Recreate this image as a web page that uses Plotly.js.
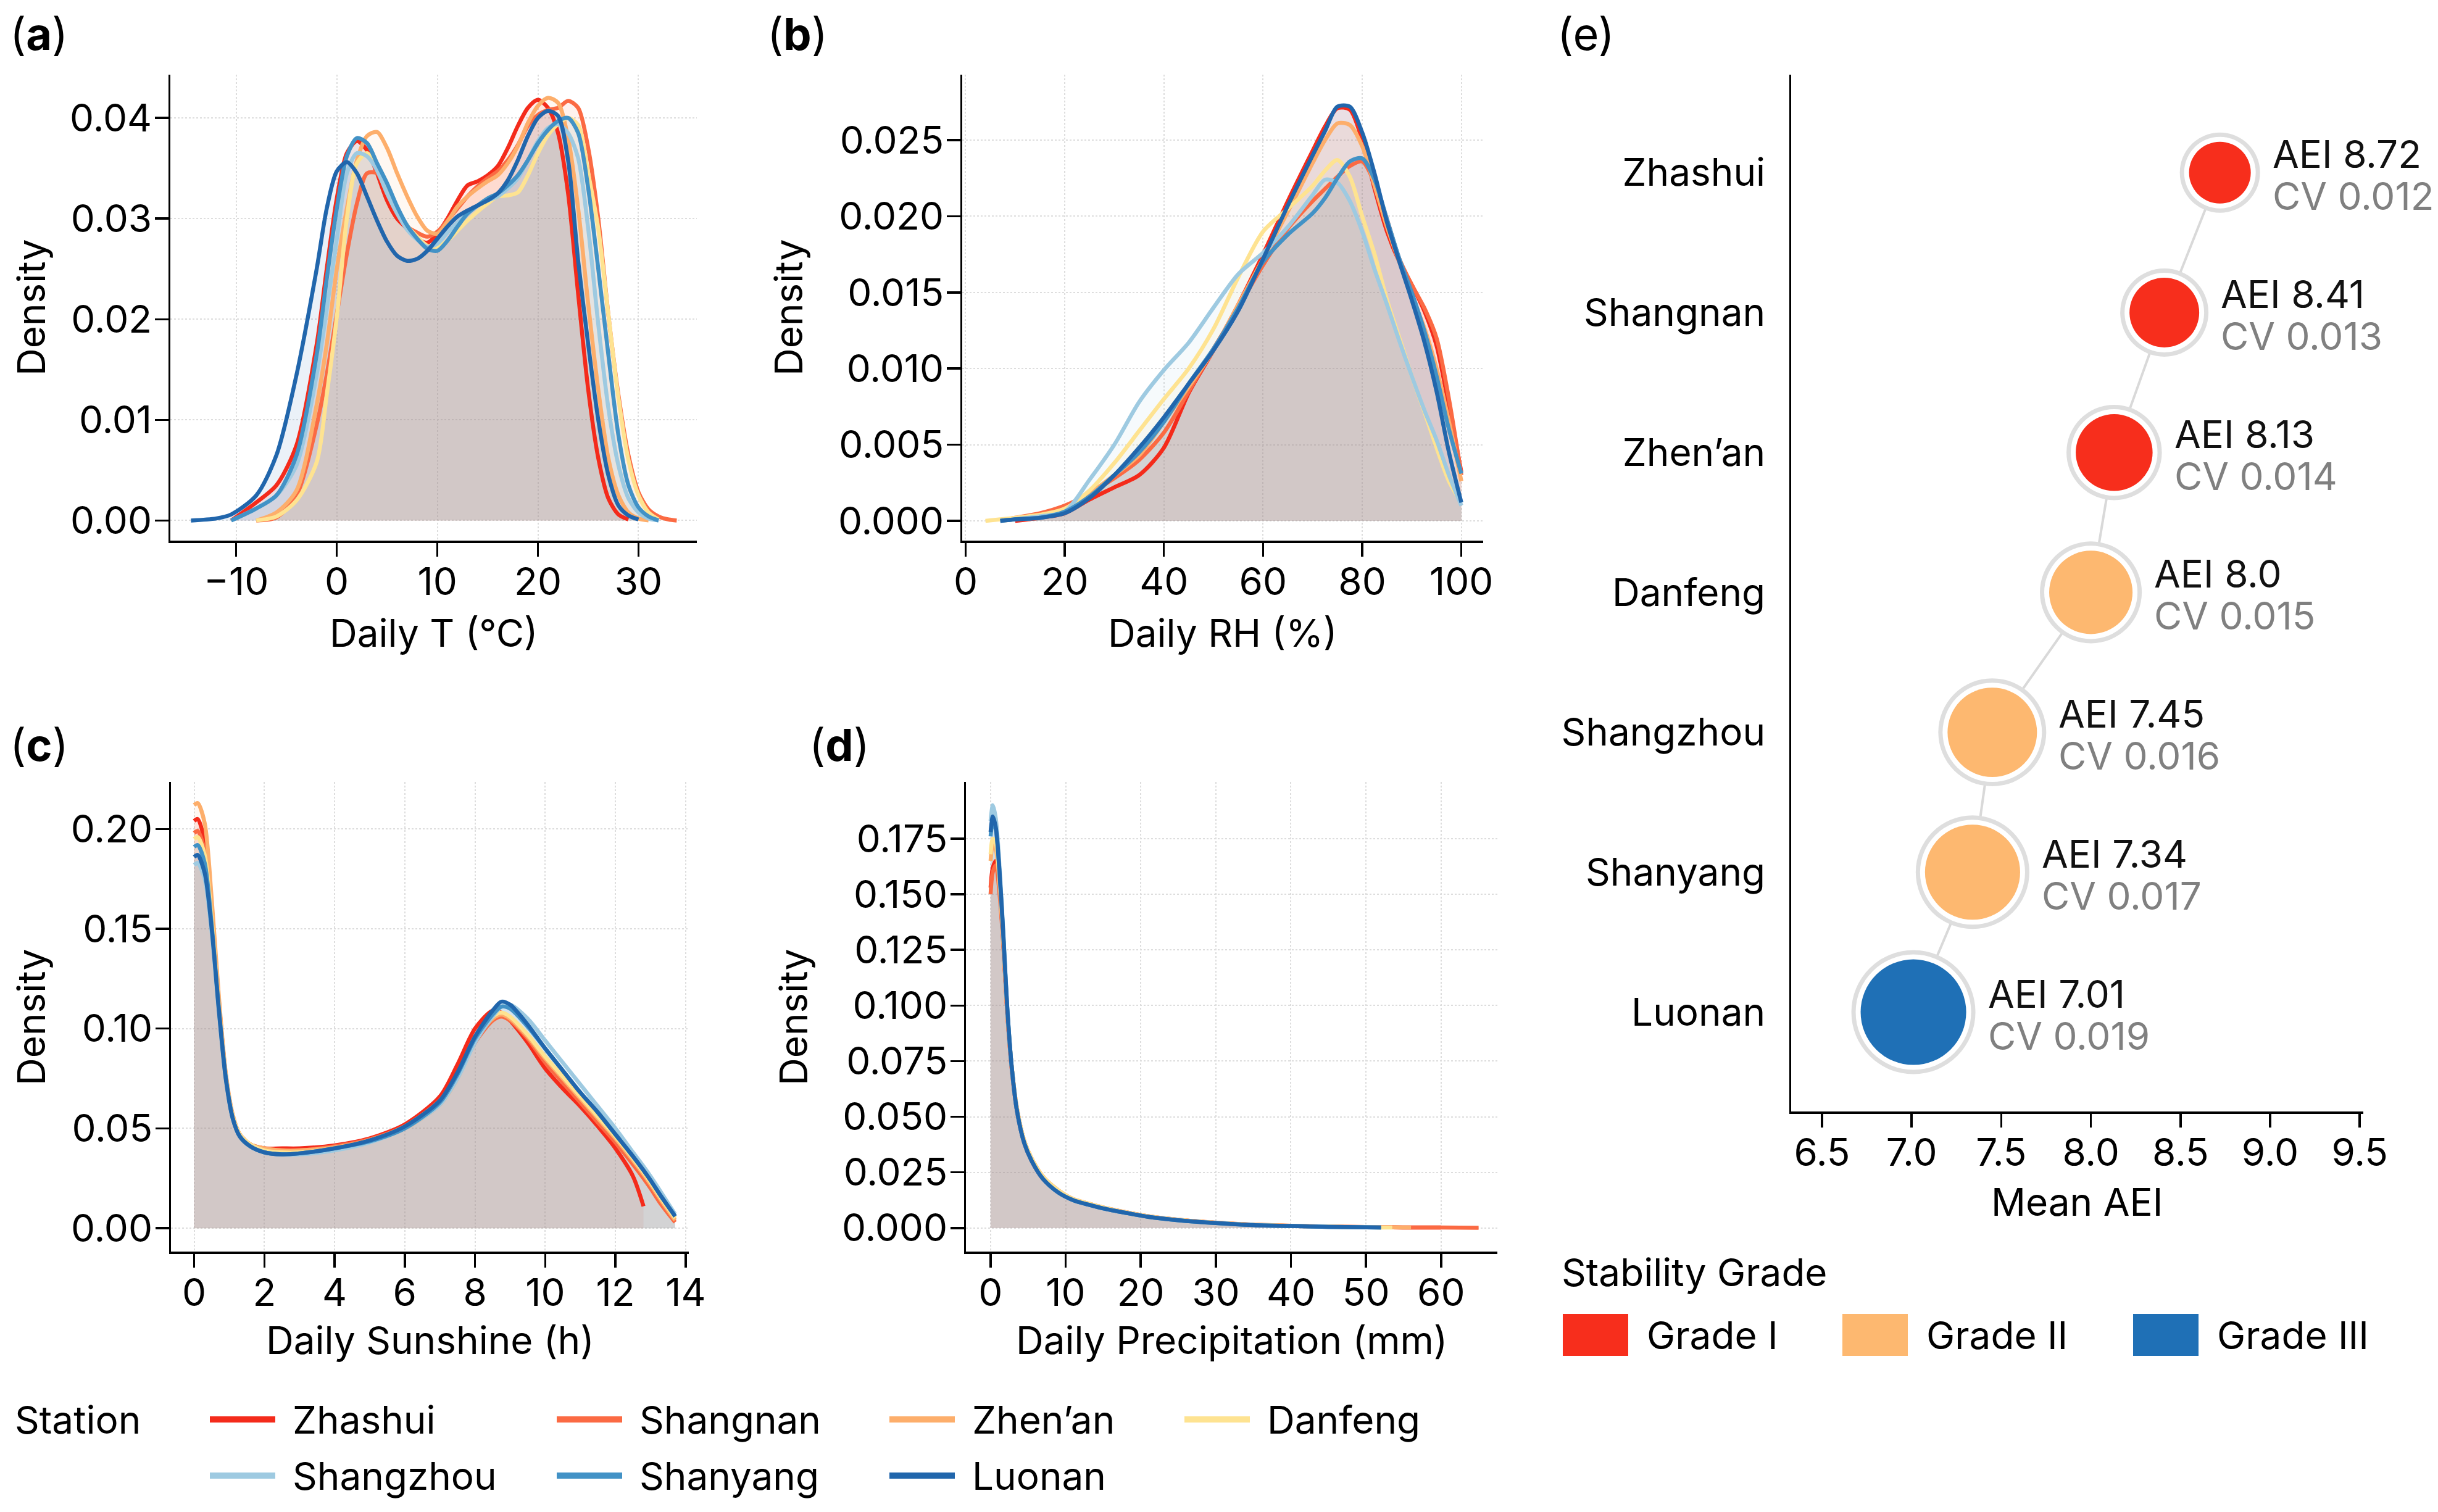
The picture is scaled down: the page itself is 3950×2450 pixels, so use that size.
<!DOCTYPE html>
<html>
<head>
<meta charset="utf-8">
<script src="https://cdn.plot.ly/plotly-3.0.1.min.js"></script>
<style>
  html, body { margin: 0; padding: 0; background: #ffffff; }
  #chart { width: 3950px; height: 2450px; }
</style>
</head>
<body>
<div id="chart"></div>
<script>
// ---------- Stations (drawing order: first drawn at the bottom) ----------
const stations = ['Zhashui', 'Shangnan', 'Zhen’an', 'Danfeng', 'Shangzhou', 'Shanyang', 'Luonan'];

// ---------- (a) Daily mean temperature density ----------
const tempX = [-14.5, -12, -10.5, -8, -6, -4, -2, -1, 0, 1, 2, 3, 4, 5, 6, 7, 8, 9, 10, 11, 12, 13, 14, 15, 16,
  17, 18, 19, 20, 21, 22, 23, 24, 25, 26, 27, 28, 29, 30, 31, 32, 33, 33.8];
const tempDensity = [
  /* Zhashui */ [null, null, 0, 0.0018, 0.0035, 0.0075, 0.0175, 0.025, 0.032, 0.0365, 0.0377, 0.0368, 0.0345, 0.0318, 0.0300, 0.0290, 0.0280, 0.0276, 0.0285, 0.0300, 0.0318, 0.0333, 0.0337, 0.0343, 0.0352, 0.0370, 0.0392, 0.0410, 0.0418, 0.0410, 0.0385, 0.0325, 0.0225, 0.0130, 0.0062, 0.0022, 0.0006, 0.0001, null, null, null, null, null],
  /* Shangnan */ [null, null, null, 0, 0.0003, 0.0025, 0.0095, 0.0145, 0.0205, 0.0265, 0.0315, 0.0345, 0.0345, 0.0325, 0.0305, 0.0292, 0.0286, 0.0282, 0.0287, 0.0298, 0.0310, 0.0322, 0.0332, 0.0340, 0.0347, 0.0358, 0.0373, 0.0392, 0.0403, 0.0408, 0.0410, 0.0417, 0.0410, 0.0370, 0.0300, 0.0205, 0.0125, 0.0065, 0.0028, 0.0011, 0.0004, 0.0001, 0],
  /* Zhen'an */ [null, null, null, 0, 0.0008, 0.003, 0.0115, 0.0175, 0.025, 0.031, 0.0358, 0.0382, 0.0386, 0.0370, 0.0345, 0.0322, 0.0302, 0.0288, 0.0285, 0.0297, 0.0312, 0.0322, 0.0330, 0.0337, 0.0343, 0.0355, 0.0372, 0.0395, 0.0412, 0.0420, 0.0415, 0.0380, 0.0310, 0.0215, 0.0130, 0.0062, 0.0025, 0.0008, 0.0002, 0, null, null, null],
  /* Danfeng */ [null, null, null, 0, 0.0004, 0.002, 0.0058, 0.0125, 0.0202, 0.0300, 0.0355, 0.0365, 0.0352, 0.0330, 0.0310, 0.0293, 0.0282, 0.0273, 0.0272, 0.0278, 0.0288, 0.0298, 0.0307, 0.0315, 0.0322, 0.0323, 0.0326, 0.0343, 0.0365, 0.0383, 0.0394, 0.0400, 0.0393, 0.0345, 0.0290, 0.0205, 0.0122, 0.0060, 0.0025, 0.0008, 0.0001, null, null],
  /* Shangzhou */ [null, null, 0, 0.0012, 0.0025, 0.0055, 0.0145, 0.021, 0.028, 0.0345, 0.0365, 0.0362, 0.0348, 0.0325, 0.0305, 0.0289, 0.0279, 0.0272, 0.0275, 0.0286, 0.0296, 0.0305, 0.0313, 0.0318, 0.0322, 0.0330, 0.0340, 0.0358, 0.0377, 0.0390, 0.0394, 0.0385, 0.0360, 0.0290, 0.0195, 0.0112, 0.0055, 0.0022, 0.0008, 0.0002, 0, null, null],
  /* Shanyang */ [null, null, 0, 0.0012, 0.0025, 0.0065, 0.0165, 0.024, 0.031, 0.0362, 0.0380, 0.0375, 0.0355, 0.0335, 0.0312, 0.0293, 0.0280, 0.0270, 0.0268, 0.0278, 0.0292, 0.0305, 0.0313, 0.0320, 0.0325, 0.0333, 0.0343, 0.0358, 0.0375, 0.0388, 0.0397, 0.0400, 0.0385, 0.0330, 0.0250, 0.0165, 0.0085, 0.0035, 0.0013, 0.0004, 0, null, null],
  /* Luonan */ [0, 0.0002, 0.0006, 0.0025, 0.0065, 0.0145, 0.025, 0.031, 0.0347, 0.0356, 0.0345, 0.0322, 0.0298, 0.0277, 0.0263, 0.0258, 0.0260, 0.0268, 0.0280, 0.0292, 0.0302, 0.0308, 0.0313, 0.0318, 0.0325, 0.0338, 0.0358, 0.0382, 0.0400, 0.0407, 0.0402, 0.0358, 0.0258, 0.0175, 0.0100, 0.0045, 0.0015, 0.0005, 0.0001, null, null, null, null]
];

// ---------- (b) Daily relative humidity density ----------
const rhX = [4, 7, 10, 15, 20, 25, 30, 35, 40, 45, 50, 55, 60, 65, 70, 72.5, 75, 77.5, 80, 82.5, 85, 87.5, 90, 92.5, 95, 97.5, 100];
const rhDensity = [
  /* Zhashui */ [null, null, 0, 0.0002, 0.0005, 0.0014, 0.0022, 0.0030, 0.0048, 0.0084, 0.0112, 0.0142, 0.0175, 0.0210, 0.0243, 0.0259, 0.0271, 0.0270, 0.0250, 0.0218, 0.0190, 0.0170, 0.0155, 0.0138, 0.0115, 0.0075, 0.0032],
  /* Shangnan */ [null, 0, 0.0002, 0.0005, 0.0010, 0.0018, 0.0028, 0.0040, 0.0058, 0.0085, 0.0113, 0.0140, 0.0168, 0.0192, 0.0210, 0.0218, 0.0226, 0.0233, 0.0236, 0.0222, 0.0198, 0.0172, 0.0155, 0.0140, 0.0120, 0.0080, 0.0030],
  /* Zhen'an */ [null, 0, 0.0001, 0.0003, 0.0008, 0.0018, 0.0030, 0.0043, 0.0065, 0.0088, 0.0112, 0.0142, 0.0172, 0.0203, 0.0235, 0.0250, 0.0261, 0.0260, 0.0246, 0.0220, 0.0193, 0.0170, 0.0148, 0.0127, 0.0100, 0.0065, 0.0026],
  /* Danfeng */ [0, 0.0001, 0.0002, 0.0004, 0.0008, 0.0020, 0.0038, 0.0059, 0.0080, 0.0100, 0.0126, 0.0160, 0.0190, 0.0205, 0.0220, 0.0230, 0.0237, 0.0226, 0.0200, 0.0175, 0.0145, 0.0120, 0.0095, 0.0072, 0.0048, 0.0026, 0.0012],
  /* Shangzhou */ [null, 0, 0.0001, 0.0003, 0.0006, 0.0027, 0.0050, 0.0078, 0.0099, 0.0117, 0.0140, 0.0162, 0.0176, 0.0193, 0.0214, 0.0224, 0.0222, 0.0210, 0.0190, 0.0165, 0.0142, 0.0118, 0.0095, 0.0073, 0.0053, 0.0030, 0.0010],
  /* Shanyang */ [null, 0, 0.0001, 0.0002, 0.0006, 0.0016, 0.0030, 0.0045, 0.0065, 0.0090, 0.0113, 0.0140, 0.0170, 0.0188, 0.0202, 0.0212, 0.0225, 0.0236, 0.0238, 0.0224, 0.0198, 0.0172, 0.0150, 0.0125, 0.0095, 0.0060, 0.0031],
  /* Luonan */ [null, 0, 0.0001, 0.0002, 0.0005, 0.0015, 0.0030, 0.0048, 0.0068, 0.0090, 0.0112, 0.0138, 0.0172, 0.0207, 0.0240, 0.0256, 0.0272, 0.0272, 0.0255, 0.0228, 0.0196, 0.0170, 0.0145, 0.0118, 0.0085, 0.0045, 0.0012]
];

// ---------- (c) Daily sunshine duration density ----------
const sunX = [0, 0.1, 0.3, 0.5, 0.7, 0.9, 1.1, 1.3, 1.6, 2, 2.5, 3, 4, 5, 6, 7, 7.5, 8, 8.5, 8.75, 9, 9.5, 10, 10.5, 11, 11.5, 12, 12.5, 12.8, 13, 13.3, 13.7];
const sunDensity = [
  /* Zhashui */ [0.204, 0.205, 0.194, 0.160, 0.115, 0.077, 0.056, 0.047, 0.042, 0.040, 0.040, 0.040, 0.0415, 0.045, 0.052, 0.066, 0.082, 0.100, 0.109, 0.108, 0.104, 0.093, 0.080, 0.070, 0.061, 0.051, 0.040, 0.026, 0.011, null, null, null],
  /* Shangnan */ [0.198, 0.199, 0.189, 0.156, 0.113, 0.076, 0.056, 0.047, 0.042, 0.040, 0.039, 0.039, 0.041, 0.0445, 0.051, 0.063, 0.076, 0.093, 0.104, 0.106, 0.104, 0.095, 0.083, 0.073, 0.063, 0.053, 0.043, 0.032, 0.025, 0.020, 0.012, 0.003],
  /* Zhen'an */ [0.212, 0.213, 0.203, 0.165, 0.117, 0.078, 0.057, 0.047, 0.042, 0.040, 0.039, 0.039, 0.0405, 0.044, 0.050, 0.062, 0.075, 0.094, 0.105, 0.107, 0.105, 0.096, 0.085, 0.075, 0.065, 0.055, 0.045, 0.034, 0.027, 0.022, 0.014, 0.004],
  /* Danfeng */ [0.195, 0.196, 0.187, 0.155, 0.112, 0.076, 0.056, 0.047, 0.042, 0.039, 0.038, 0.038, 0.040, 0.044, 0.051, 0.064, 0.077, 0.095, 0.106, 0.108, 0.106, 0.097, 0.086, 0.076, 0.066, 0.056, 0.046, 0.035, 0.028, 0.023, 0.015, 0.005],
  /* Shangzhou */ [0.182, 0.183, 0.175, 0.148, 0.109, 0.075, 0.055, 0.046, 0.041, 0.038, 0.037, 0.037, 0.039, 0.043, 0.050, 0.062, 0.075, 0.093, 0.106, 0.111, 0.112, 0.105, 0.094, 0.083, 0.072, 0.061, 0.050, 0.038, 0.031, 0.026, 0.018, 0.007],
  /* Shanyang */ [0.191, 0.192, 0.183, 0.152, 0.111, 0.076, 0.055, 0.046, 0.041, 0.038, 0.037, 0.0375, 0.040, 0.0435, 0.050, 0.063, 0.077, 0.095, 0.107, 0.111, 0.110, 0.101, 0.090, 0.079, 0.068, 0.058, 0.047, 0.036, 0.029, 0.024, 0.016, 0.006],
  /* Luonan */ [0.186, 0.187, 0.178, 0.150, 0.110, 0.075, 0.055, 0.046, 0.041, 0.038, 0.037, 0.0375, 0.040, 0.044, 0.051, 0.064, 0.078, 0.096, 0.109, 0.1135, 0.112, 0.102, 0.090, 0.079, 0.068, 0.058, 0.047, 0.036, 0.029, 0.024, 0.016, 0.006]
];

// ---------- (d) Daily precipitation density ----------
const precX = [0, 0.3, 0.7, 1.2, 1.7, 2.2, 2.8, 3.5, 4.5, 5.5, 7, 9, 11, 13, 15, 18, 21, 25, 30, 35, 40, 45, 50, 52, 53.5, 56, 60, 65];
const precDensity = [
  /* Zhashui */ [0.153, 0.162, 0.165, 0.152, 0.128, 0.098, 0.072, 0.053, 0.038, 0.030, 0.022, 0.0165, 0.0128, 0.0108, 0.0090, 0.0069, 0.0051, 0.0036, 0.0023, 0.0014, 0.0009, 0.0006, 0.0004, 0.0003, 0.0003, 0.0002, 0.0002, null],
  /* Shangnan */ [0.150, 0.160, 0.163, 0.150, 0.127, 0.098, 0.073, 0.054, 0.039, 0.031, 0.023, 0.017, 0.013, 0.011, 0.0092, 0.0071, 0.0053, 0.0037, 0.0024, 0.0015, 0.0010, 0.0006, 0.0004, 0.0003, 0.0003, 0.0002, 0.0002, 0.0001],
  /* Zhen'an */ [0.165, 0.172, 0.170, 0.154, 0.129, 0.099, 0.073, 0.054, 0.039, 0.031, 0.023, 0.017, 0.013, 0.011, 0.0092, 0.0071, 0.0053, 0.0037, 0.0024, 0.0015, 0.0010, 0.0006, 0.0004, 0.0003, 0.0003, 0.0002, null, null],
  /* Danfeng */ [0.168, 0.175, 0.173, 0.156, 0.130, 0.099, 0.073, 0.054, 0.039, 0.031, 0.023, 0.017, 0.013, 0.011, 0.0092, 0.0070, 0.0052, 0.0036, 0.0023, 0.0014, 0.0009, 0.0006, 0.0003, 0.0002, 0.0002, null, null, null],
  /* Shangzhou */ [0.183, 0.190, 0.184, 0.162, 0.133, 0.101, 0.073, 0.053, 0.038, 0.030, 0.022, 0.016, 0.0125, 0.0105, 0.0088, 0.0068, 0.0050, 0.0035, 0.0022, 0.0013, 0.0009, 0.0005, 0.0003, 0.0002, null, null, null, null],
  /* Shanyang */ [0.176, 0.183, 0.179, 0.159, 0.131, 0.100, 0.073, 0.053, 0.038, 0.030, 0.022, 0.016, 0.0125, 0.0105, 0.0088, 0.0068, 0.0050, 0.0035, 0.0022, 0.0013, 0.0009, 0.0005, 0.0003, 0.0002, null, null, null, null],
  /* Luonan */ [0.178, 0.185, 0.180, 0.160, 0.132, 0.100, 0.073, 0.053, 0.038, 0.030, 0.022, 0.016, 0.0125, 0.0105, 0.0088, 0.0068, 0.0050, 0.0035, 0.0022, 0.0013, 0.0009, 0.0005, 0.0003, 0.0002, null, null, null, null]
];

// ---------- (e) Mean AEI, CV and stability grade per station ----------
const aeiStations = ['Zhashui', 'Shangnan', 'Zhen’an', 'Danfeng', 'Shangzhou', 'Shanyang', 'Luonan'];
const meanAEI = [8.72, 8.41, 8.13, 8.0, 7.45, 7.34, 7.01];
const aeiCV = [0.012, 0.013, 0.014, 0.015, 0.016, 0.017, 0.019];
const aeiGrade = ['Grade I', 'Grade I', 'Grade I', 'Grade II', 'Grade II', 'Grade II', 'Grade III'];
const gradeNames = ['Grade I', 'Grade II', 'Grade III'];

// ---------- Styling ----------
const stationColors = ['#f42b1b', '#fb6a43', '#fdae6b', '#fee391', '#9ecae1', '#4292c6', '#2166ac'];
const gradeColors = { 'Grade I': '#f72e1c', 'Grade II': '#fdb870', 'Grade III': '#1f70b6' };
const W = 3950, H = 2450;
const FONT = 'Inter, "Noto Sans", "DejaVu Sans", sans-serif';
const FS = 62;                  // general text size
const fx = v => v / W;          // page pixel -> paper fraction (x)
const fy = v => 1 - v / H;      // page pixel -> paper fraction (y)

function rgba(hex, a) {
  const n = parseInt(hex.slice(1), 16);
  return `rgba(${(n >> 16) & 255},${(n >> 8) & 255},${n & 255},${a})`;
}

const traces = [];

// density panels: all translucent fills first, then the outlines on top
const densityPanels = [
  { x: tempX, ys: tempDensity, xa: 'x', ya: 'y' },
  { x: rhX, ys: rhDensity, xa: 'x2', ya: 'y2' },
  { x: sunX, ys: sunDensity, xa: 'x3', ya: 'y3' },
  { x: precX, ys: precDensity, xa: 'x4', ya: 'y4' }
];
densityPanels.forEach(p => {
  stations.forEach((s, i) => {
    traces.push({
      type: 'scatter', mode: 'lines', name: s + ' area',
      x: p.x, y: p.ys[i], xaxis: p.xa, yaxis: p.ya,
      line: { color: 'rgba(0,0,0,0)', width: 0, shape: 'spline', smoothing: 0.8 },
      fill: 'tozeroy', fillcolor: rgba(stationColors[i], 0.09),
      connectgaps: false, showlegend: false, hoverinfo: 'skip'
    });
  });
  stations.forEach((s, i) => {
    traces.push({
      type: 'scatter', mode: 'lines', name: s,
      x: p.x, y: p.ys[i], xaxis: p.xa, yaxis: p.ya,
      line: { color: stationColors[i], width: 6.5, shape: 'spline', smoothing: 0.8 },
      connectgaps: false, showlegend: false, hoverinfo: 'skip'
    });
  });
});

// AEI dot chart: marker area grows linearly with CV
const fillD = aeiCV.map(c => Math.sqrt(10000 + (c - 0.012) * 2.75e6));
const outerD = fillD.map(d => d + 30);
traces.push({
  type: 'scatter', mode: 'lines', x: meanAEI, y: aeiStations, xaxis: 'x5', yaxis: 'y5',
  line: { color: '#d9d9d9', width: 4 }, showlegend: false, hoverinfo: 'skip'
});
traces.push({
  type: 'scatter', mode: 'markers', x: meanAEI, y: aeiStations, xaxis: 'x5', yaxis: 'y5',
  marker: { size: outerD, color: '#dedede', line: { width: 0 }, opacity: 1 },
  showlegend: false, hoverinfo: 'skip', cliponaxis: false
});
traces.push({
  type: 'scatter', mode: 'markers', x: meanAEI, y: aeiStations, xaxis: 'x5', yaxis: 'y5',
  marker: { size: fillD.map(d => d + 16), color: '#ffffff', line: { width: 0 }, opacity: 1 },
  showlegend: false, hoverinfo: 'skip', cliponaxis: false
});
traces.push({
  type: 'scatter', mode: 'markers', x: meanAEI, y: aeiStations, xaxis: 'x5', yaxis: 'y5',
  marker: { size: fillD, color: aeiGrade.map(g => gradeColors[g]), line: { width: 0 }, opacity: 1 },
  showlegend: false, hoverinfo: 'skip', cliponaxis: false
});

// ---------- Axes ----------
const baseAxis = {
  showline: true, linecolor: '#000000', linewidth: 3.5,
  ticks: 'outside', ticklen: 22, tickwidth: 3.5, tickcolor: '#000000',
  showgrid: true, gridcolor: '#dddddd', gridwidth: 2, griddash: 'dot',
  zeroline: false, fixedrange: true,
  tickfont: { family: FONT, size: FS, color: '#000000' }
};
function xAxis(extra) { return Object.assign({}, baseAxis, { ticklabelstandoff: -12 }, extra); }
function yAxis(extra) { return Object.assign({}, baseAxis, { ticklabelstandoff: -8 }, extra); }

const rowTop = [fy(876), fy(121)];
const rowBottom = [fy(2028), fy(1267)];

const layout = {
  width: W, height: H,
  margin: { l: 0, r: 0, t: 0, b: 0, pad: 0 },
  paper_bgcolor: '#ffffff', plot_bgcolor: '#ffffff',
  font: { family: FONT, size: FS, color: '#000000' },
  showlegend: false,
  xaxis: xAxis({ domain: [fx(276), fx(1129)], anchor: 'y', range: [-16.55, 35.8],
    tickmode: 'array', tickvals: [-10, 0, 10, 20, 30] }),
  yaxis: yAxis({ domain: rowTop, anchor: 'x', range: [-0.0020, 0.0443],
    tickmode: 'array', tickvals: [0, 0.01, 0.02, 0.03, 0.04], tickformat: '.2f' }),
  xaxis2: xAxis({ domain: [fx(1559), fx(2403)], anchor: 'y2', range: [-0.68, 104.4],
    tickmode: 'array', tickvals: [0, 20, 40, 60, 80, 100] }),
  yaxis2: yAxis({ domain: rowTop, anchor: 'x2', range: [-0.0013, 0.0293],
    tickmode: 'array', tickvals: [0, 0.005, 0.01, 0.015, 0.02, 0.025], tickformat: '.3f' }),
  xaxis3: xAxis({ domain: [fx(277), fx(1116)], anchor: 'y3', range: [-0.66, 14.09],
    tickmode: 'array', tickvals: [0, 2, 4, 6, 8, 10, 12, 14] }),
  yaxis3: yAxis({ domain: rowBottom, anchor: 'x3', range: [-0.0117, 0.2236],
    tickmode: 'array', tickvals: [0, 0.05, 0.10, 0.15, 0.20], tickformat: '.2f' }),
  xaxis4: xAxis({ domain: [fx(1565), fx(2426)], anchor: 'y4', range: [-3.28, 67.5],
    tickmode: 'array', tickvals: [0, 10, 20, 30, 40, 50, 60] }),
  yaxis4: yAxis({ domain: rowBottom, anchor: 'x4', range: [-0.0106, 0.2005],
    tickmode: 'array', tickvals: [0, 0.025, 0.05, 0.075, 0.1, 0.125, 0.15, 0.175], tickformat: '.3f' }),
  xaxis5: xAxis({ domain: [fx(2902), fx(3829)], anchor: 'y5', range: [6.328, 9.52], showgrid: false,
    tickmode: 'array', tickvals: [6.5, 7.0, 7.5, 8.0, 8.5, 9.0, 9.5], tickformat: '.1f' }),
  yaxis5: yAxis({ domain: [fy(1801), fy(121)], anchor: 'x5', type: 'category',
    categoryorder: 'array', categoryarray: aeiStations.slice().reverse(), range: [-0.71, 6.70],
    showgrid: false, ticks: '', ticklabelstandoff: 26 }),
  shapes: [],
  annotations: []
};

function note(text, x, y, opts) {
  layout.annotations.push(Object.assign({
    text: text, x: fx(x), y: fy(y), xref: 'paper', yref: 'paper',
    showarrow: false, xanchor: 'left', yanchor: 'middle',
    font: { family: FONT, size: FS, color: '#000000' }
  }, opts || {}));
}

// panel letters
const letterFont = { family: FONT, size: 72, color: '#000' };
note('(<b>a</b>)', 14, 54, { font: letterFont });
note('(<b>b</b>)', 1241, 54, { font: letterFont });
note('(<b>c</b>)', 14, 1206, { font: letterFont });
note('(<b>d</b>)', 1309, 1206, { font: letterFont });
note('(e)', 2521, 54, { font: letterFont });

// axis titles
note('Daily T (°C)', 703, 1025, { xanchor: 'center' });
note('Daily RH (%)', 1981, 1025, { xanchor: 'center' });
note('Daily Sunshine (h)', 697, 2171, { xanchor: 'center' });
note('Daily Precipitation (mm)', 1995, 2171, { xanchor: 'center' });
note('Mean AEI', 3365, 1947, { xanchor: 'center' });
note('Density', 50, 498, { xanchor: 'center', textangle: -90 });
note('Density', 1277, 498, { xanchor: 'center', textangle: -90 });
note('Density', 50, 1648, { xanchor: 'center', textangle: -90 });
note('Density', 1285, 1648, { xanchor: 'center', textangle: -90 });

// AEI / CV value labels beside each dot
const fmtAEI = v => Number.isInteger(v) ? v.toFixed(1) : String(v);
aeiStations.forEach((s, i) => {
  const pos = aeiStations.length - 1 - i;   // category index (bottom = 0)
  const shift = outerD[i] / 2 + 18;
  layout.annotations.push({
    text: 'AEI ' + fmtAEI(meanAEI[i]), x: meanAEI[i], y: pos, xref: 'x5', yref: 'y5',
    xshift: shift, yshift: 30, showarrow: false, xanchor: 'left', yanchor: 'middle',
    font: { family: FONT, size: FS, color: '#111111' }
  });
  layout.annotations.push({
    text: 'CV ' + String(aeiCV[i]), x: meanAEI[i], y: pos, xref: 'x5', yref: 'y5',
    xshift: shift, yshift: -38, showarrow: false, xanchor: 'left', yanchor: 'middle',
    font: { family: FONT, size: FS, color: '#808080' }
  });
});

// station key (bottom left)
note('Station', 22, 2300);
const keyCols = [340, 902, 1441, 1919];
const keyRows = [2300, 2391];
stations.forEach((s, i) => {
  const col = i < 4 ? i : i - 4;
  const row = i < 4 ? 0 : 1;
  const x0 = keyCols[col];
  const y0 = keyRows[row];
  layout.shapes.push({
    type: 'line', xref: 'paper', yref: 'paper',
    x0: fx(x0), x1: fx(x0 + 106), y0: fy(y0), y1: fy(y0),
    line: { color: stationColors[i], width: 10 }
  });
  note(s, x0 + 132, y0);
});

// stability grade key (bottom right)
note('Stability Grade', 2528, 2061);
const gradeKeyX = [2532, 2985, 3456];
gradeNames.forEach((g, i) => {
  const x0 = gradeKeyX[i];
  layout.shapes.push({
    type: 'rect', xref: 'paper', yref: 'paper',
    x0: fx(x0), x1: fx(x0 + 106), y0: fy(2197), y1: fy(2129),
    fillcolor: gradeColors[g], line: { width: 0 }
  });
  note(g, x0 + 134, 2163);
});

Plotly.newPlot('chart', traces, layout, { staticPlot: true, displayModeBar: false });
</script>
</body>
</html>
